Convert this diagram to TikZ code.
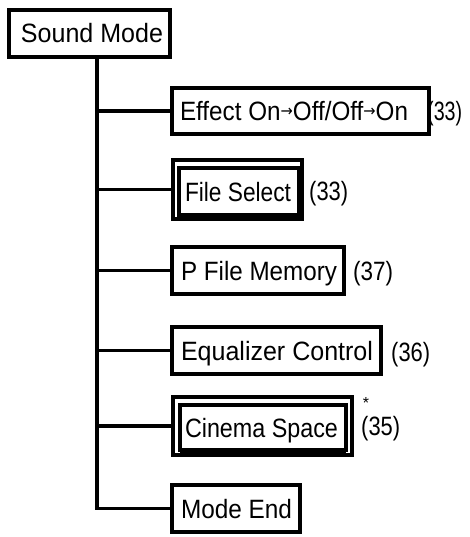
\documentclass[tikz,border=0pt]{standalone}
\usepackage{graphicx}
\usepackage{fontspec}
\setmainfont{Liberation Sans}
\newfontfamily\arrfont{DejaVu Sans}
\newcommand\boxtext[4]{\makebox[#1pt][l]{\hspace{#2pt}\resizebox{#3pt}{\height}{#4}}}
\newcommand\sarr{\raisebox{4pt}{\arrfont\fontsize{16}{16}\selectfont →}}
\begin{document}
\begin{tikzpicture}[x=1pt,y=-1pt,
  box/.style={draw, line width=3.3pt, anchor=north west, outer sep=0pt, inner sep=0pt, text height=19pt, text depth=0pt, font=\fontsize{26.5}{26.5}\selectfont},
  frame/.style={draw, line width=3.3pt, anchor=north west, outer sep=0pt, inner sep=0pt},
  lbl/.style={anchor=west, inner sep=0pt, text height=19pt, text depth=0pt, font=\fontsize{26.5}{26.5}\selectfont},
  conn/.style={line width=3.3pt}]
\useasboundingbox (0,0) rectangle (470,537);
% main node
\node[box, minimum height=47pt] (sm) at (9,10) {\boxtext{161}{12}{142}{Sound Mode}};
% items
\node[box, minimum height=46pt] (ef) at (172,88) {\boxtext{257}{8}{228}{Effect On\sarr Off/Off\sarr On}};
\node[frame, minimum width=129pt, minimum height=59pt] (fso) at (173,160) {};
\node[box, minimum height=47pt] (fs) at (179,168) {\boxtext{120}{6}{106}{File Select}};
\fill (fs.north east) rectangle (fso.east |- fs.south);
\node[box, minimum height=47pt] (pf) at (172,247) {\boxtext{172}{9}{156}{P File Memory}};
\node[box, minimum height=47pt] (eq) at (172,327) {\boxtext{209}{9}{192}{Equalizer Control}};
\node[frame, minimum width=179pt, minimum height=58pt] (cso) at (173,397) {};
\node[box, minimum height=45pt] (cs) at (180,405) {\boxtext{166}{5}{153}{Cinema Space}};
\fill (cs.south west) rectangle (cs.south east |- cso.south);
\node[box, minimum height=47pt] (me) at (172,485) {\boxtext{128}{9}{111}{Mode End}};
% labels
\node[lbl] (l1) at (427,111) {\resizebox{35pt}{\height}{(33)}};
\node[lbl] (l2) at (309,191) {\resizebox{39pt}{\height}{(33)}};
\node[lbl] (l3) at (353,271) {\resizebox{40pt}{\height}{(37)}};
\node[lbl] (l4) at (391,352) {\resizebox{39pt}{\height}{(36)}};
\node[lbl] (l5) at (361,426) {\resizebox{39pt}{\height}{(35)}};
\node[inner sep=0pt, font=\fontsize{16}{16}\selectfont] (st) at (366,403) {*};
% connectors
\coordinate (tr) at (97,0);
\draw[conn] (sm.south -| tr) -- (tr |- me.west) -- (me.west);
\draw[conn] (tr |- ef.west) -- (ef.west);
\draw[conn] (tr |- fso.west) -- (fso.west);
\draw[conn] (tr |- pf.west) -- (pf.west);
\draw[conn] (tr |- eq.west) -- (eq.west);
\draw[conn] (tr |- cso.west) -- (cso.west);
\end{tikzpicture}
\end{document}
